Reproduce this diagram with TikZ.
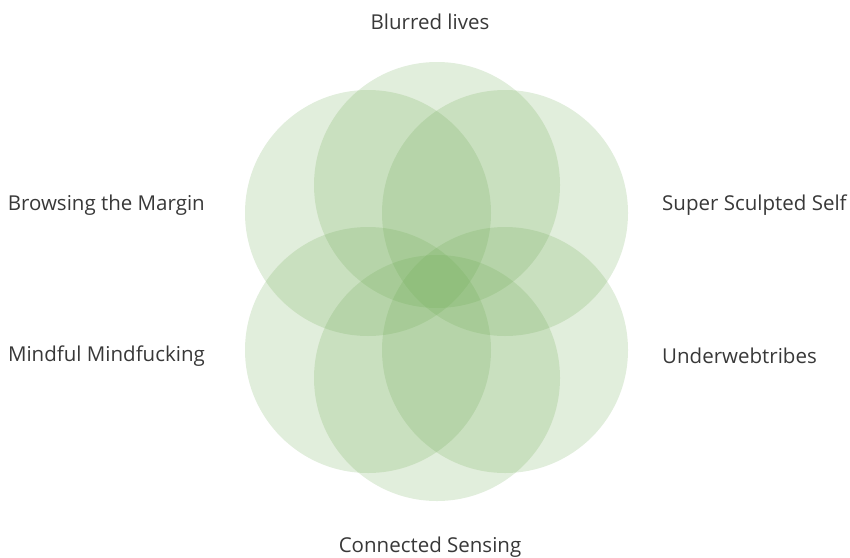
\documentclass[tikz,border=0pt]{standalone}
\usepackage{fontspec}
\setmainfont{Open Sans}
\usepackage{tikz}
\usetikzlibrary{positioning}
\definecolor{leafgreen}{RGB}{106,168,79}
\definecolor{labelgrey}{RGB}{56,56,56}
\tikzset{
    petal/.style = {circle, fill=leafgreen, fill opacity=0.2, minimum size=246pt, inner sep=0pt},
    trend/.style = {text=labelgrey, font=\fontsize{20.5}{24}\selectfont, inner sep=0pt},
    trendleft/.style = {trend, anchor=east},
    trendright/.style = {trend, anchor=west}}

\begin{document}
\begin{tikzpicture}[x=1pt,y=-1pt]
    \useasboundingbox (0,0) rectangle (850,557);
    \node[petal] (blurred) at (437,185) {};
    \node[petal] (browsing) at (368,213) {};
    \node[petal] (sculpted) at (505,213) {};
    \node[petal] (mindful) at (368,350) {};
    \node[petal] (underweb) at (505,350) {};
    \node[petal] (sensing) at (437,378) {};
    \node[trend] (blurredlbl) at (430,22) {Blurred lives};
    \node[trendleft] (browsinglbl) at (205,205) {Browsing the Margin};
    \node[trendright] (sculptedlbl) at (662,205) {Super Sculpted Self};
    \node[trendleft] (mindfullbl) at (205,356) {Mindful Mindfucking};
    \node[trendright] (underweblbl) at (662,356) {Underwebtribes};
    \node[trend] (sensinglbl) at (430,547) {Connected Sensing};
\end{tikzpicture}
\end{document}
